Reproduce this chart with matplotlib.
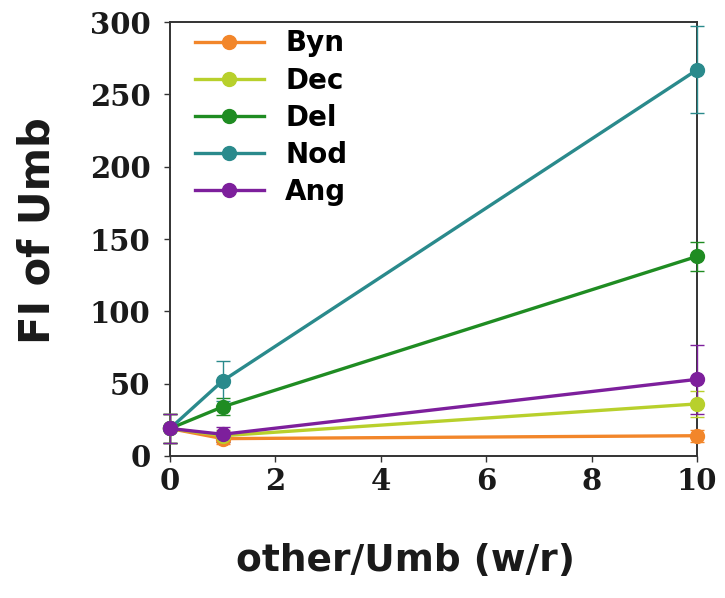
import matplotlib
matplotlib.use("Agg")
import matplotlib.pyplot as plt

# Mass ratio of the competing compound to Umb
ratios = [0, 1, 10]

series_names = ["Byn", "Dec", "Del", "Nod", "Ang"]
byn = [19, 12, 14]
dec = [19, 14, 36]
dele = [19, 34, 138]
nod = [19, 52, 267]
ang = [19, 15, 53]

byn_err = [10, 4, 4]
dec_err = [10, 4, 9]
del_err = [10, 6, 10]
nod_err = [10, 14, 30]
ang_err = [10, 5, 24]

values = [byn, dec, dele, nod, ang]
errors = [byn_err, dec_err, del_err, nod_err, ang_err]
colors = ["#f2862a", "#b8d02c", "#1f8c22", "#2a8a8c", "#7d1f9c"]

x_ticks = [0, 2, 4, 6, 8, 10]
y_ticks = [0, 50, 100, 150, 200, 250, 300]

fig = plt.figure(figsize=(7.25, 5.98), dpi=100)
ax = fig.add_axes([0.2345, 0.2375, 0.7269, 0.7255])

handles = []
for name, vals, errs, col in zip(series_names, values, errors, colors):
    cont = ax.errorbar(ratios, vals, yerr=errs, color=col, lw=2.4, marker="o",
                       markersize=10, elinewidth=1.0, capsize=5, capthick=1.0,
                       label=name, clip_on=False, zorder=3)
    handles.append(cont.lines[0])

ax.set_xlim(0, 10)
ax.set_ylim(0, 300)
ax.set_xticks(x_ticks)
ax.set_yticks(y_ticks)

tick_font = {"family": "DejaVu Serif", "weight": "bold", "size": 21}
ax.set_xticklabels([str(t) for t in x_ticks], fontdict=tick_font)
ax.set_yticklabels([str(t) for t in y_ticks], fontdict=tick_font)
ax.tick_params(axis="both", direction="out", length=4, width=1, colors="#333333",
               labelcolor="#1a1a1a")
ax.tick_params(axis="y", pad=10)
ax.tick_params(axis="x", pad=4)

for sp in ax.spines.values():
    sp.set_color("#333333")
    sp.set_linewidth(1.4)

ax.set_xlabel("other/Umb (w/r)", fontsize=27, fontweight="bold",
              family="DejaVu Sans", color="#1a1a1a")
ax.xaxis.set_label_coords(0.446, -0.2)
ax.set_ylabel("FI of Umb", fontsize=30, fontweight="bold",
              family="DejaVu Sans", color="#1a1a1a")
ax.yaxis.set_label_coords(-0.212, 0.52)

leg = ax.legend(handles, series_names, loc="upper left", frameon=False,
                handlelength=2.5,
                prop={"family": "DejaVu Sans", "weight": "bold", "size": 20},
                labelspacing=0.33, borderaxespad=0.3, handletextpad=0.75,
                bbox_to_anchor=(0.01, 1.028))

fig.savefig("out.png", dpi=100)
